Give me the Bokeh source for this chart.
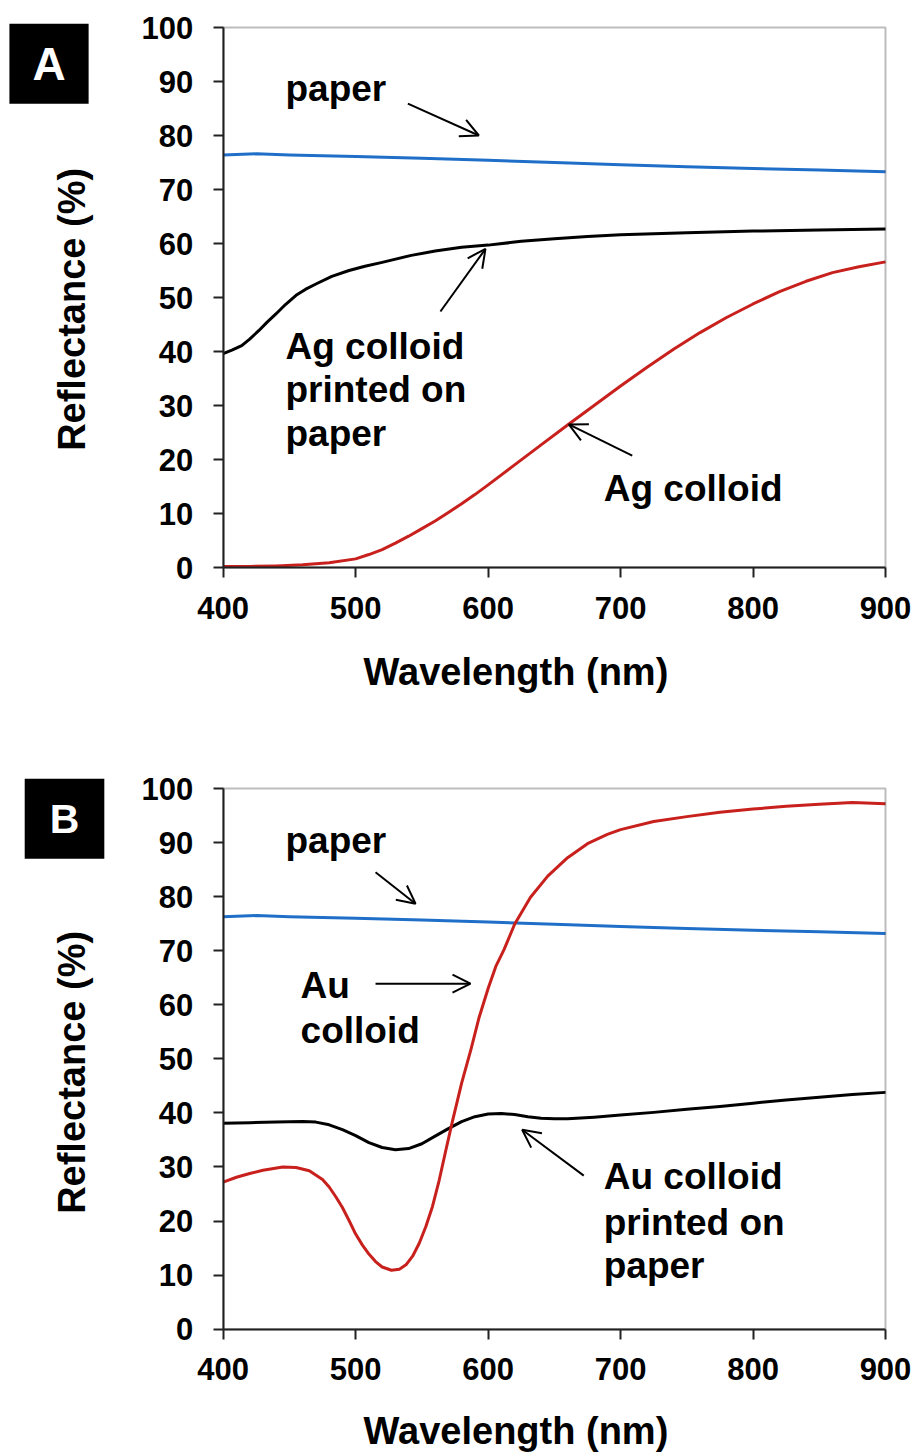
import math
from bokeh.plotting import figure
from bokeh.models import (Range1d, FixedTicker, Label, Arrow, OpenHead, LinearAxis,
                          BoxAnnotation)
from bokeh.layouts import column
from bokeh.embed import file_html
from bokeh.resources import INLINE

# ---------------- data: panel A ----------------
wl_paper_a = [400, 425, 450, 500, 550, 600, 650, 700, 750, 800, 850, 900]
paper_a = [76.4, 76.6, 76.4, 76.1, 75.8, 75.4, 75.0, 74.6, 74.2, 73.9, 73.6, 73.3]

wl_ag_paper = [400, 407, 414, 420, 427, 433, 440, 447, 455, 462, 470, 482, 495, 507, 520,
               542, 560, 580, 600, 625, 650, 675, 700, 750, 800, 850, 900]
ag_paper = [39.6, 40.3, 41.1, 42.3, 43.9, 45.4, 47.0, 48.7, 50.4, 51.5, 52.5, 53.9, 55.0,
            55.8, 56.5, 57.8, 58.6, 59.3, 59.7, 60.4, 60.9, 61.3, 61.6, 62.0, 62.3, 62.5, 62.7]

wl_ag = [400, 420, 440, 460, 480, 500, 510, 520, 530, 540, 550, 560, 570, 580, 590, 600,
         620, 640, 660, 680, 700, 720, 740, 760, 780, 800, 820, 840, 860, 880, 900]
ag = [0.2, 0.2, 0.3, 0.5, 0.9, 1.6, 2.4, 3.3, 4.5, 5.8, 7.2, 8.6, 10.2, 11.8, 13.5, 15.3,
      19.0, 22.7, 26.4, 30.0, 33.6, 37.1, 40.4, 43.5, 46.3, 48.8, 51.1, 53.0, 54.6, 55.7, 56.6]

# ---------------- data: panel B ----------------
wl_paper_b = [400, 425, 450, 500, 550, 600, 650, 700, 750, 800, 850, 900]
paper_b = [76.3, 76.5, 76.3, 76.0, 75.7, 75.3, 74.9, 74.5, 74.1, 73.8, 73.5, 73.2]

wl_au_paper = [400, 420, 440, 460, 470, 480, 490, 500, 510, 520, 530, 540, 550, 560, 570,
               580, 590, 600, 610, 620, 630, 640, 650, 660, 680, 700, 725, 750, 775, 800,
               825, 850, 875, 900]
au_paper = [38.1, 38.2, 38.3, 38.4, 38.3, 37.8, 36.9, 35.8, 34.5, 33.6, 33.2, 33.4, 34.3,
            35.7, 37.1, 38.4, 39.3, 39.8, 39.9, 39.7, 39.3, 39.0, 38.9, 38.9, 39.2, 39.6,
            40.1, 40.7, 41.2, 41.8, 42.4, 42.9, 43.4, 43.8]

wl_au = [400, 410, 420, 430, 445, 455, 465, 475, 480, 485, 490, 495, 500, 505, 510, 515,
         520, 527, 533, 538, 543, 548, 553, 558, 563, 568, 573, 580, 587, 593, 600, 606,
         612, 620, 632, 645, 660, 675, 690, 700, 725, 750, 775, 800, 825, 850, 875, 900]
au = [27.2, 28.1, 28.8, 29.4, 30.0, 29.9, 29.3, 27.7, 26.3, 24.5, 22.5, 20.1, 17.6, 15.6,
      13.9, 12.5, 11.5, 10.9, 11.1, 11.9, 13.5, 15.9, 19.0, 22.7, 27.5, 33.0, 38.4, 45.5,
      51.7, 57.5, 63.0, 67.2, 70.2, 74.9, 79.9, 83.8, 87.2, 89.8, 91.5, 92.4, 93.9, 94.8,
      95.6, 96.2, 96.7, 97.1, 97.4, 97.2]

x_ticks = [400, 500, 600, 700, 800, 900]
y_ticks = [0, 10, 20, 30, 40, 50, 60, 70, 80, 90, 100]
x_title = "Wavelength (nm)"
y_title = "Reflectance (%)"

BLUE = "#1f6fc8"
RED = "#c8201c"
FONT = "Liberation Sans"
AXC = "#222222"

W = 916
KX = 662.3 / 500.0          # px per nm
FRAME_LEFT = 222.7          # px of 400 nm


def make_fig(height, frame_top, frame_bottom):
    ky = (frame_bottom - frame_top) / 100.0
    y_end = 100 + frame_top / ky
    y_start = y_end - height / ky
    x_start = 400 - FRAME_LEFT / KX
    x_end = x_start + W / KX
    p = figure(width=W, height=height, min_border=0,
               x_range=Range1d(x_start, x_end), y_range=Range1d(y_start, y_end),
               x_axis_location=None, y_axis_location=None,
               output_backend="svg", toolbar_location=None, tools="")
    p.background_fill_color = "white"
    p.border_fill_color = "white"
    p.outline_line_color = None
    p.xgrid.visible = False
    p.ygrid.visible = False

    xa = LinearAxis(fixed_location=y_ticks[0], bounds=(x_ticks[0], x_ticks[-1]),
                    ticker=FixedTicker(ticks=x_ticks))
    ya = LinearAxis(fixed_location=x_ticks[0], bounds=(y_ticks[0], y_ticks[-1]),
                    ticker=FixedTicker(ticks=y_ticks))
    for ax in (xa, ya):
        ax.axis_line_color = AXC
        ax.axis_line_width = 2
        ax.major_tick_line_color = AXC
        ax.major_tick_line_width = 2
        ax.major_tick_out = 10
        ax.major_tick_in = 0
        ax.minor_tick_line_color = None
        ax.major_label_text_font = FONT
        ax.major_label_text_font_style = "bold"
        ax.major_label_text_font_size = "31px"
        ax.major_label_text_color = "black"
    xa.major_label_standoff = 19
    ya.major_label_standoff = 20
    p.add_layout(xa, "below")
    p.add_layout(ya, "left")
    p.add_layout(BoxAnnotation(left=x_ticks[0], right=x_ticks[-1], bottom=y_ticks[0],
                               top=y_ticks[-1], fill_color=None, fill_alpha=0,
                               line_color=AXC, line_width=2))
    return p


def txt(p, x, y, s, size="37px", align="left", baseline="alphabetic", angle=0.0):
    p.add_layout(Label(x=x, y=y, text=s, text_font=FONT, text_font_style="bold",
                       text_font_size=size, text_color="black", text_align=align,
                       text_baseline=baseline, angle=angle))


def arrow(p, x0, y0, x1, y1):
    p.add_layout(Arrow(end=OpenHead(size=18, line_width=2, line_color="black"),
                       x_start=x0, y_start=y0, x_end=x1, y_end=y1,
                       line_width=2, line_color="black"))


def letter(p, x, y, s, size, pad):
    p.add_layout(Label(x=x, y=y, text=s, text_font=FONT, text_font_style="bold",
                       text_font_size=size, text_color="white", text_align="center",
                       text_baseline="middle", background_fill_color="black",
                       padding=pad))


# ---------------- panel A ----------------
pa = make_fig(728, 27, 567)
pa.line(wl_paper_a, paper_a, line_color=BLUE, line_width=3, line_join="round")
pa.line(wl_ag_paper, ag_paper, line_color="black", line_width=3, line_join="round")
pa.line(wl_ag, ag, line_color=RED, line_width=3, line_join="round")

txt(pa, 447, 88.7, "paper")
arrow(pa, 539.4, 85.9, 593, 80.0)
txt(pa, 447, 41.0, "Ag colloid")
txt(pa, 447, 32.9, "printed on")
txt(pa, 447, 24.8, "paper")
arrow(pa, 564, 47.4, 598, 59.0)
txt(pa, 687.3, 14.6, "Ag colloid")
arrow(pa, 708.8, 20.7, 660.9, 26.5)
letter(pa, 268.5, 93.3, "A", "46px", (23, 14))
txt(pa, 621, -19.3, x_title, size="38px", align="center")
txt(pa, 286.2, 47.8, y_title, size="38px", align="center", baseline="middle",
    angle=math.pi / 2)

# ---------------- panel B ----------------
pb = make_fig(728, 60, 600.7)
pb.line(wl_paper_b, paper_b, line_color=BLUE, line_width=3, line_join="round")
pb.line(wl_au_paper, au_paper, line_color="black", line_width=3, line_join="round")
pb.line(wl_au, au, line_color=RED, line_width=3, line_join="round")

txt(pb, 447, 90.4, "paper")
arrow(pb, 515, 84.5, 545.2, 78.7)
txt(pb, 458.4, 63.6, "Au")
txt(pb, 458.4, 55.3, "colloid")
arrow(pb, 515, 63.9, 586.7, 63.9)
txt(pb, 687.3, 28.2, "Au colloid")
txt(pb, 687.3, 19.8, "printed on")
txt(pb, 687.3, 11.8, "paper")
arrow(pb, 672.2, 28.4, 625.7, 36.9)
letter(pb, 280.2, 94.4, "B", "41px", (25, 17))
txt(pb, 621, -18.9, x_title, size="38px", align="center")
txt(pb, 286.2, 47.5, y_title, size="38px", align="center", baseline="middle",
    angle=math.pi / 2)

layout = column(pa, pb, spacing=0)
open("out.html", "w").write(file_html(layout, INLINE))
